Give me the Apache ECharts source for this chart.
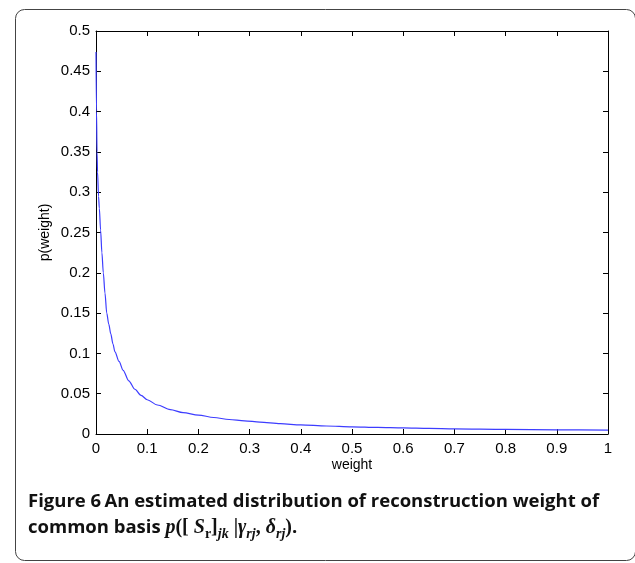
<!DOCTYPE html>
<html>
<head>
<meta charset="utf-8">
<script src="https://cdn.jsdelivr.net/npm/echarts@6/dist/echarts.min.js"></script>
<style>
  html, body { margin: 0; padding: 0; background: #fff; }
  #chart { width: 635px; height: 563px; }
</style>
</head>
<body>
<div id="chart"></div>
<script>
// Estimated density of the reconstruction weight
const weights = [0, 0.001, 0.002, 0.003, 0.005, 0.0065, 0.009, 0.0115, 0.0143, 0.0175,
  0.021, 0.025, 0.029, 0.033, 0.037, 0.045, 0.053, 0.064, 0.076, 0.088,
  0.1, 0.12, 0.145, 0.17, 0.2, 0.23, 0.26, 0.29, 0.32, 0.36,
  0.4, 0.45, 0.5, 0.55, 0.6, 0.65, 0.7, 0.8, 0.9, 1.0];
const density = [0.474, 0.40, 0.35, 0.325, 0.295, 0.28, 0.253, 0.225, 0.2, 0.175,
  0.15, 0.136, 0.124, 0.112, 0.102, 0.09, 0.079, 0.066, 0.0555, 0.048,
  0.0425, 0.036, 0.0302, 0.0265, 0.0235, 0.0205, 0.018, 0.0163, 0.0148, 0.0128,
  0.0113, 0.0099, 0.0089, 0.0081, 0.0075, 0.0069, 0.0064, 0.0057, 0.0052, 0.0048];

const xTicks = [0, 0.1, 0.2, 0.3, 0.4, 0.5, 0.6, 0.7, 0.8, 0.9, 1];
const yTicks = [0, 0.05, 0.1, 0.15, 0.2, 0.25, 0.3, 0.35, 0.4, 0.45, 0.5];

const xLabel = 'weight';
const yLabel = 'p(weight)';
const captionLine1 = ['Figure 6', 'An estimated distribution of reconstruction weight of'];
const captionLine2 = 'common basis ';

const fmt = v => String(+v.toFixed(2));
const axisFont = 'Liberation Sans, Arial, sans-serif';
const lineBlack = { lineStyle: { color: '#000', width: 1 } };

const chart = echarts.init(document.getElementById('chart'), null, { renderer: 'canvas' });

const xBase = {
  type: 'value', min: xTicks[0], max: xTicks[xTicks.length - 1], interval: 0.1,
  axisLine: { show: true, onZero: false, ...lineBlack },
  axisTick: { show: true, inside: true, length: 5, ...lineBlack },
  splitLine: { show: false }
};
const yBase = {
  type: 'value', min: yTicks[0], max: yTicks[yTicks.length - 1], interval: 0.05,
  axisLine: { show: true, onZero: false, ...lineBlack },
  axisTick: { show: true, inside: true, length: 5, ...lineBlack },
  splitLine: { show: false }
};

const captionFont = { fontFamily: 'Open Sans', fontWeight: 'bold', fontSize: 18.5, fill: '#111' };
const mathFont = { fontFamily: 'Liberation Serif', fontWeight: 'bold', fill: '#111' };

chart.setOption({
  animation: false,
  backgroundColor: '#fff',
  grid: { left: 96, right: 27, top: 31, bottom: 129, containLabel: false },
  xAxis: [
    Object.assign({}, xBase, {
      position: 'bottom',
      name: xLabel, nameLocation: 'middle', nameGap: 24, nameMoveOverlap: false,
      nameTextStyle: { color: '#000', fontSize: 14, fontFamily: axisFont },
      axisLabel: { color: '#000', fontSize: 15, fontFamily: axisFont, margin: 7, formatter: fmt }
    }),
    Object.assign({}, xBase, { position: 'top', axisLabel: { show: false } })
  ],
  yAxis: [
    Object.assign({}, yBase, {
      position: 'left',
      name: yLabel, nameLocation: 'middle', nameGap: 44, nameMoveOverlap: false,
      nameTextStyle: { color: '#000', fontSize: 14, fontFamily: axisFont },
      axisLabel: { color: '#000', fontSize: 15, fontFamily: axisFont, margin: 6, formatter: fmt }
    }),
    Object.assign({}, yBase, { position: 'right', axisLabel: { show: false } })
  ],
  series: [{
    type: 'line',
    xAxisIndex: 0, yAxisIndex: 0,
    data: weights.map((w, i) => [w, density[i]]),
    showSymbol: false,
    smooth: 0.3,
    smoothMonotone: 'x',
    lineStyle: { color: '#3d3dff', width: 1.2 }
  }],
  graphic: [
    {
      type: 'rect', left: 13, top: 7, silent: true,
      shape: { width: 620, height: 551, r: 9 },
      style: { fill: 'none', stroke: '#444', lineWidth: 1 }
    },
    {
      type: 'text', left: 28, top: 492,
      style: {
        text: '{b|' + captionLine1[0] + '} {b|' + captionLine1[1] + '}',
        rich: { b: captionFont }
      }
    },
    {
      type: 'text', left: 28, top: 518,
      style: {
        text: '{b|' + captionLine2 + '}{m|p}{r|([ }{m|S}{u|r}{r|]}{s|jk}{r| |}{m|γ}{s|rj}{r|, }{m|δ}{s|rj}{r|)}{b|.}',
        rich: {
          b: Object.assign({}, captionFont, { lineHeight: 26 }),
          m: Object.assign({}, mathFont, { fontStyle: 'italic', fontSize: 20, lineHeight: 26 }),
          r: Object.assign({}, mathFont, { fontSize: 20, lineHeight: 26 }),
          u: Object.assign({}, mathFont, { fontSize: 14, lineHeight: 15, verticalAlign: 'bottom' }),
          s: Object.assign({}, mathFont, { fontStyle: 'italic', fontSize: 14, lineHeight: 15, verticalAlign: 'bottom' })
        }
      }
    }
  ]
});
</script>
</body>
</html>
